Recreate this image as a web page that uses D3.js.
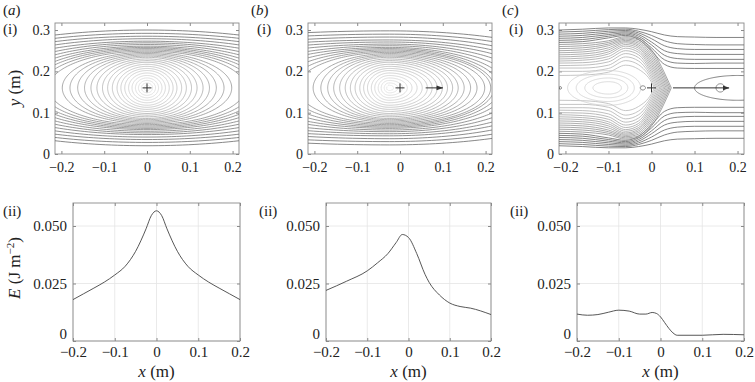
<!DOCTYPE html>
<html>
<head>
<meta charset="utf-8">
<script src="https://cdn.jsdelivr.net/npm/d3@7"></script>
<style>
  body { margin: 0; background: #fff; }
  svg, svg text { font-family: "Liberation Serif", "Times New Roman", "DejaVu Serif", serif; }
  text { fill: #222; }
</style>
</head>
<body>
<svg id="fig" width="755" height="382"></svg>
<script>
// ---- data ----
const xTicks = [-0.2, -0.1, 0, 0.1, 0.2];
const yTicksTop = [0, 0.1, 0.2, 0.3];
const yTicksBottom = [0, 0.025, 0.05];
const centreY = 0.16;

// (a) contours: half-width on the centre line and height above centre at x = 0
const halfWidthA = [0.529, 0.515, 0.484, 0.442, 0.408, 0.364, 0.332, 0.307, 0.284, 0.266, 0.248, 0.230,
  0.198, 0.180, 0.162, 0.146, 0.131, 0.117, 0.104, 0.092, 0.081, 0.070, 0.061, 0.052, 0.043, 0.035, 0.027, 0.020, 0.013, 0.007];
const heightA = [0.140, 0.132, 0.125, 0.119, 0.113, 0.109, 0.105, 0.101, 0.098, 0.095, 0.092, 0.089,
  0.086, 0.083, 0.080, 0.077, 0.074, 0.070, 0.066, 0.062, 0.057, 0.052, 0.047, 0.042, 0.036, 0.030, 0.024, 0.018, 0.012, 0.0065];

// (b) contours: crest at x = -0.025, left / right half-widths and heights
const crestB = -0.025;
const leftB = [0.774, 0.749, 0.654, 0.638, 0.530, 0.458, 0.379, 0.338, 0.295, 0.262, 0.235, 0.214,
  0.178, 0.160, 0.144, 0.130, 0.116, 0.103, 0.091, 0.080, 0.069, 0.060, 0.051, 0.042, 0.034, 0.026, 0.019, 0.012, 0.006];
const rightB = [0.518, 0.475, 0.429, 0.394, 0.360, 0.328, 0.299, 0.275, 0.258, 0.245, 0.237, 0.223,
  0.205, 0.190, 0.175, 0.161, 0.148, 0.136, 0.124, 0.112, 0.100, 0.089, 0.077, 0.065, 0.053, 0.042, 0.031, 0.020, 0.010];
const heightB = [0.138, 0.130, 0.123, 0.116, 0.111, 0.106, 0.102, 0.098, 0.095, 0.092, 0.089, 0.086,
  0.083, 0.080, 0.077, 0.074, 0.070, 0.066, 0.062, 0.057, 0.052, 0.047, 0.042, 0.036, 0.030, 0.024, 0.018, 0.012, 0.0065];

// (c) lines crossing the whole panel (upper half, y at the stations)
const stationsC = [-0.215, -0.16, -0.1, -0.06, -0.03, 0, 0.03, 0.06, 0.1, 0.15, 0.215];
const openC = [
  [0.300, 0.302, 0.305, 0.305, 0.302, 0.296, 0.288, 0.284, 0.283, 0.282, 0.282],
  [0.295, 0.297, 0.301, 0.302, 0.297, 0.287, 0.274, 0.267, 0.265, 0.264, 0.264],
  [0.290, 0.292, 0.297, 0.299, 0.293, 0.279, 0.262, 0.255, 0.253, 0.253, 0.253],
  [0.285, 0.287, 0.293, 0.296, 0.289, 0.271, 0.250, 0.243, 0.241, 0.241, 0.241],
  [0.280, 0.282, 0.289, 0.293, 0.285, 0.264, 0.239, 0.231, 0.229, 0.229, 0.229],
  [0.275, 0.277, 0.285, 0.290, 0.281, 0.257, 0.228, 0.220, 0.219, 0.220, 0.220],
  [0.270, 0.272, 0.281, 0.287, 0.277, 0.250, 0.217, 0.208, 0.207, 0.207, 0.207]
];
// (c) contours closing in the ">" ahead of the source: y at the first six stations, then tip x
const wedgeC = [
  [0.265, 0.267, 0.274, 0.284, 0.280, 0.252],
  [0.260, 0.262, 0.270, 0.281, 0.276, 0.246],
  [0.255, 0.257, 0.266, 0.278, 0.272, 0.240],
  [0.250, 0.252, 0.262, 0.275, 0.268, 0.234],
  [0.245, 0.247, 0.257, 0.272, 0.264, 0.228],
  [0.240, 0.242, 0.252, 0.269, 0.260, 0.222],
  [0.235, 0.237, 0.247, 0.265, 0.256, 0.216],
  [0.230, 0.232, 0.242, 0.261, 0.251, 0.210],
  [0.225, 0.227, 0.236, 0.256, 0.246, 0.204],
  [0.220, 0.221, 0.230, 0.250, 0.240, 0.198],
  [0.214, 0.215, 0.223, 0.243, 0.233, 0.192],
  [0.208, 0.208, 0.215, 0.235, 0.225, 0.186],
  [0.200, 0.200, 0.207, 0.226, 0.216, 0.180],
  [0.190, 0.191, 0.198, 0.215, 0.205, 0.174]
];
const wedgeTipC = [0.046, 0.043, 0.040, 0.037, 0.034, 0.031, 0.028, 0.025, 0.022, 0.019, 0.016, 0.013, 0.010, 0.007];
// (c) closed loops: centre x, left half-width, right half-width, height
const loopsC = [
  [-0.10, 0.095, 0.075, 0.042], [-0.10, 0.075, 0.060, 0.033], [-0.10, 0.055, 0.045, 0.024],
  [-0.10, 0.036, 0.030, 0.015],
  [0.20, 0.10, 0.10, 0.030], [0.16, 0.010, 0.010, 0.010], [0.232, 0.014, 0.014, 0.014],
  [-0.02, 0.006, 0.006, 0.005], [-0.212, 0.003, 0.003, 0.003]
];

// energy along y = 0.16
const energyXA = [-0.2, -0.175, -0.15, -0.125, -0.1, -0.075, -0.05, -0.025, -0.0125, 0, 0.0125, 0.025, 0.05, 0.075, 0.1, 0.125, 0.15, 0.175, 0.2];
const energyA = [0.0180, 0.0205, 0.0230, 0.0256, 0.0287, 0.0325, 0.0390, 0.0488, 0.0545, 0.0566, 0.0545, 0.0488, 0.0390, 0.0325, 0.0287, 0.0256, 0.0230, 0.0205, 0.0180];
const energyXB = [-0.2, -0.15, -0.1, -0.075, -0.05, -0.03, -0.015, 0, 0.02, 0.04, 0.05, 0.075, 0.1, 0.125, 0.15, 0.2];
const energyB = [0.0220, 0.0260, 0.0305, 0.0340, 0.0380, 0.0428, 0.0463, 0.0450, 0.0380, 0.0290, 0.0255, 0.0200, 0.0165, 0.0150, 0.0143, 0.0115];
const energyXC = [-0.2, -0.175, -0.15, -0.125, -0.1, -0.075, -0.05, -0.035, -0.02, -0.01, 0, 0.01, 0.02, 0.03, 0.04, 0.1, 0.15, 0.2];
const energyC = [0.0117, 0.0112, 0.0115, 0.0125, 0.0134, 0.0130, 0.0117, 0.0117, 0.0124, 0.0120, 0.0105, 0.0080, 0.0055, 0.0035, 0.0025, 0.0025, 0.0029, 0.0027];

// ---- layout ----
const svg = d3.select("#fig");
const serif = '"Liberation Serif", "Times New Roman", "DejaVu Serif", serif';
const topX = [[55, 239], [308, 492], [559, 744]];
const topY = [23, 154];
const botX = [[73, 240], [326, 491], [577, 744]];
const botY = [203, 341];
const boxColor = "#8a8a8a";

const fmtX = d => d === 0 ? "0" : d3.format(".1f")(d);
const fmtE = d => d === 0 ? "0" : d3.format(".3f")(d);

const defs = svg.append("defs");
defs.append("marker")
  .attr("id", "head")
  .attr("viewBox", "0 0 10 10")
  .attr("refX", 9).attr("refY", 5)
  .attr("markerWidth", 7).attr("markerHeight", 7)
  .attr("orient", "auto")
  .append("path").attr("d", "M0,1.5L10,5L0,8.5z").attr("fill", "#333");

function frame(g, x, y, xr, yr, yTicks, yFmt, xPad, yPad, size, grid) {
  if (grid) {
    g.append("g").selectAll("line").data(xTicks).join("line")
      .attr("x1", d => x(d)).attr("x2", d => x(d)).attr("y1", yr[0]).attr("y2", yr[1])
      .attr("stroke", "#e4e4e4").attr("stroke-width", 0.8);
    g.append("g").selectAll("line").data(yTicks).join("line")
      .attr("y1", d => y(d)).attr("y2", d => y(d)).attr("x1", xr[0]).attr("x2", xr[1])
      .attr("stroke", "#e4e4e4").attr("stroke-width", 0.8);
  }
  const ax = g.append("g").attr("transform", `translate(0,${yr[1]})`)
    .call(d3.axisBottom(x).tickValues(xTicks).tickFormat(fmtX).tickSizeInner(-3).tickSizeOuter(0).tickPadding(xPad));
  const ay = g.append("g").attr("transform", `translate(${xr[0]},0)`)
    .call(d3.axisLeft(y).tickValues(yTicks).tickFormat(yFmt).tickSizeInner(-3).tickSizeOuter(0).tickPadding(yPad));
  const at = g.append("g").attr("transform", `translate(0,${yr[0]})`)
    .call(d3.axisTop(x).tickValues(xTicks).tickFormat("").tickSizeInner(-3).tickSizeOuter(0));
  const ar = g.append("g").attr("transform", `translate(${xr[1]},0)`)
    .call(d3.axisRight(y).tickValues(yTicks).tickFormat("").tickSizeInner(-3).tickSizeOuter(0));
  [ax, ay, at, ar].forEach(a => {
    a.attr("font-family", serif).attr("font-size", size);
    a.select(".domain").remove();
    a.selectAll("line").attr("stroke", boxColor);
    a.selectAll("text").attr("fill", "#222");
  });
  // energy panels: lift the "0" a little so it clears the x labels
  if (grid) ay.selectAll("text").filter(d => d === 0).attr("dy", "-0.15em");
  g.append("rect").attr("x", xr[0]).attr("y", yr[0])
    .attr("width", xr[1] - xr[0]).attr("height", yr[1] - yr[0])
    .attr("fill", "none").attr("stroke", boxColor).attr("stroke-width", 0.9);
}

function loop(cx, aL, aR, b) {
  return d3.range(0, 241).map(k => {
    const t = k / 240 * 2 * Math.PI;
    const c = Math.cos(t);
    return [cx + (c < 0 ? aL : aR) * c, centreY + b * Math.sin(t)];
  });
}

function topPanel(i) {
  const xr = topX[i];
  const x = d3.scaleLinear().domain([-0.215, 0.215]).range(xr);
  const y = d3.scaleLinear().domain([0, 0.317]).range([topY[1], topY[0]]);
  const g = svg.append("g");
  defs.append("clipPath").attr("id", "clip" + i).append("rect")
    .attr("x", xr[0]).attr("y", topY[0]).attr("width", xr[1] - xr[0]).attr("height", topY[1] - topY[0]);
  frame(g, x, y, xr, topY, yTicksTop, d => d === 0 ? "0" : d3.format(".1f")(d), 8, 5, 14, false);
  const plot = g.append("g").attr("clip-path", `url(#clip${i})`);
  const line = d3.line().x(d => x(d[0])).y(d => y(d[1]));
  return { g, plot, x, y, line };
}

function cross(p) {
  const cx = p.x(0), cy = p.y(centreY);
  p.g.append("path").attr("d", `M${cx - 4.5},${cy}H${cx + 4.5}M${cx},${cy - 4.5}V${cy + 4.5}`)
    .attr("stroke", "#333").attr("stroke-width", 1);
}

function arrow(p, x0, x1) {
  p.g.append("line").attr("x1", p.x(x0)).attr("x2", p.x(x1))
    .attr("y1", p.y(centreY)).attr("y2", p.y(centreY))
    .attr("stroke", "#333").attr("stroke-width", 1).attr("marker-end", "url(#head)");
}

// (a)
const pa = topPanel(0);
const shadeA = d3.scaleLinear().domain([0, 12, heightA.length - 1]).range(["#6a6a6a", "#909090", "#e2e2e2"]);
pa.plot.selectAll("path").data(heightA).join("path")
  .attr("d", (b, k) => pa.line(loop(0, halfWidthA[k], halfWidthA[k], b)))
  .attr("fill", "none").attr("stroke", (b, k) => shadeA(k)).attr("stroke-width", 0.8);
cross(pa);

// (b)
const pb = topPanel(1);
const shadeB = d3.scaleLinear().domain([0, 12, heightB.length - 1]).range(["#6a6a6a", "#909090", "#e2e2e2"]);
pb.plot.selectAll("path").data(heightB).join("path")
  .attr("d", (b, k) => pb.line(loop(crestB, leftB[k], rightB[k], b)))
  .attr("fill", "none").attr("stroke", (b, k) => shadeB(k)).attr("stroke-width", 0.8);
cross(pb);
arrow(pb, 0.06, 0.1);

// (c)
const pc = topPanel(2);
const smooth = d3.line().curve(d3.curveMonotoneX).x(d => pc.x(d[0])).y(d => pc.y(d[1]));
const mirror = pts => pts.map(d => [d[0], 2 * centreY - d[1]]);
openC.forEach((ys, k) => {
  const upper = stationsC.map((s, j) => [s, ys[j]]);
  [upper, mirror(upper)].forEach(pts => pc.plot.append("path").attr("d", smooth(pts))
    .attr("fill", "none").attr("stroke", "#666").attr("stroke-width", 0.8));
});
const shadeC = d3.scaleLinear().domain([0, wedgeC.length - 1]).range(["#8c8c8c", "#b8b8b8"]);
wedgeC.forEach((ys, k) => {
  const upper = ys.map((v, j) => [stationsC[j], v]).concat([[wedgeTipC[k], centreY]]);
  [upper, mirror(upper)].forEach(pts => pc.plot.append("path").attr("d", smooth(pts))
    .attr("fill", "none").attr("stroke", shadeC(k)).attr("stroke-width", 0.8));
});
loopsC.forEach((s, k) => pc.plot.append("path").attr("d", pc.line(loop(s[0], s[1], s[2], s[3])))
  .attr("fill", "none").attr("stroke", k < 4 ? "#cfcfcf" : "#666").attr("stroke-width", 0.8));
cross(pc);
arrow(pc, 0.05, 0.18);

// bottom panels
function bottomPanel(i, xs, es) {
  const xr = botX[i];
  const x = d3.scaleLinear().domain([-0.2, 0.2]).range(xr);
  const y = d3.scaleLinear().domain([0, 0.06]).range([botY[1], botY[0]]);
  const g = svg.append("g");
  frame(g, x, y, xr, botY, yTicksBottom, fmtE, 5, 6, 15, true);
  g.append("path")
    .attr("d", d3.line().curve(d3.curveMonotoneX).x(d => x(d[0])).y(d => y(d[1]))(xs.map((v, k) => [v, es[k]])))
    .attr("fill", "none").attr("stroke", "#444").attr("stroke-width", 0.9);
  const t = g.append("text").attr("x", (xr[0] + xr[1]) / 2).attr("y", 377)
    .attr("text-anchor", "middle").attr("font-size", 17);
  t.append("tspan").attr("font-style", "italic").text("x");
  t.append("tspan").text(" (m)");
}
bottomPanel(0, energyXA, energyA);
bottomPanel(1, energyXB, energyB);
bottomPanel(2, energyXC, energyC);

// labels
const letters = [["a", 3], ["b", 251], ["c", 502]];
letters.forEach(([l, px]) => {
  const t = svg.append("text").attr("x", px).attr("y", 15).attr("font-size", 15);
  t.append("tspan").text("(");
  t.append("tspan").attr("font-style", "italic").text(l);
  t.append("tspan").text(")");
});
[[3, 34], [257, 34], [509, 34]].forEach(([px, py]) =>
  svg.append("text").attr("x", px).attr("y", py).attr("font-size", 15).text("(i)"));
[[3, 216], [259, 216], [510, 216]].forEach(([px, py]) =>
  svg.append("text").attr("x", px).attr("y", py).attr("font-size", 15).text("(ii)"));

const yl = svg.append("text").attr("transform", "translate(20,88) rotate(-90)")
  .attr("text-anchor", "middle").attr("font-size", 17);
yl.append("tspan").attr("font-style", "italic").text("y");
yl.append("tspan").text(" (m)");

const el = svg.append("text").attr("transform", "translate(20,268) rotate(-90)")
  .attr("text-anchor", "middle").attr("font-size", 17);
el.append("tspan").attr("font-style", "italic").text("E");
el.append("tspan").text(" (J m");
el.append("tspan").attr("font-size", 11).attr("dy", -6).text("−2");
el.append("tspan").attr("dy", 6).text(")");
</script>
</body>
</html>
